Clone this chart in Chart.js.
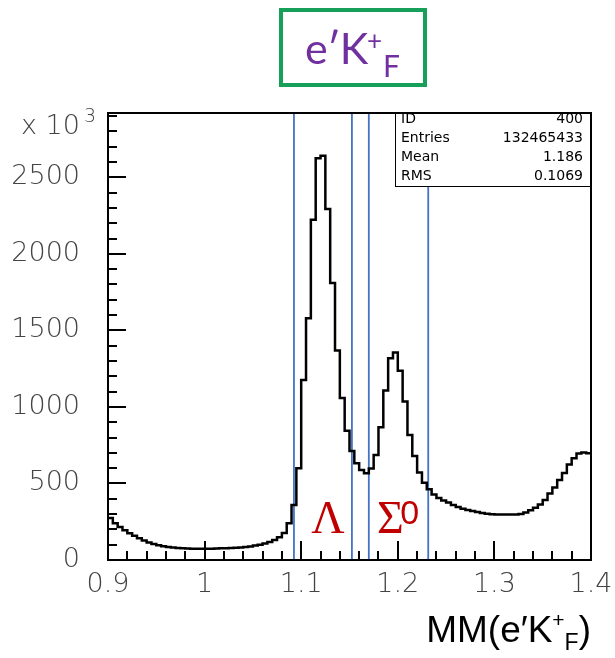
<!DOCTYPE html>
<html>
<head>
<meta charset="utf-8">
<script src="https://cdn.jsdelivr.net/npm/chart.js@4.4.1/dist/chart.umd.min.js"></script>
<style>
body { margin: 0; background: #fff; }
#wrap { position: relative; width: 615px; height: 658px; }
#title {
    position: absolute; left: 279px; top: 8px; width: 148px; height: 79px;
    box-sizing: border-box; border: 4px solid #16a05a;
    color: #7030a0; font-family: "Comic Sans MS", "Lato", sans-serif;
    white-space: nowrap;
}
#title .m { position: absolute; left: 22px; top: 14px; font-size: 43px; line-height: 43px; letter-spacing: -1px; }
#title .sup { position: absolute; left: 84px; top: 15px; font-size: 26px; line-height: 26px; }
#title .sub { position: absolute; left: 100px; top: 38px; font-size: 30px; line-height: 30px; }
#xtitle {
    position: absolute; right: 24px; top: 609px; height: 49px;
    font-family: "Liberation Sans", Arial, sans-serif; font-size: 37px; color: #000;
    white-space: nowrap;
}
#xtitle .sup { font-size: 21px; position: relative; top: -15px; }
#xtitle .sub { font-size: 23px; position: relative; top: 8px; }
</style>
</head>
<body>
<div id="wrap">
  <canvas id="chart"></canvas>
  <div id="title"><span class="m">e′K</span><span class="sup">+</span><span class="sub">F</span></div>
  <div id="xtitle">MM(e′K<span class="sup">+</span><span class="sub">F</span>)</div>
</div>
<script>
// histogram: 100 bins of 0.005 from 0.9 to 1.4, counts in units of 10^3
const binLow = 0.9;
const binWidth = 0.005;
const counts = [
    275, 240, 215, 195, 175, 158, 142, 128, 115, 104,
    96, 90, 85, 81, 78, 76, 75, 74, 74, 74,
    74, 74, 75, 76, 77, 78, 80, 82, 85, 89,
    94, 100, 108, 117, 130, 148, 176, 240, 359, 600,
    1176, 1580, 2222, 2625, 2640, 2293, 1810, 1368, 1058, 845,
    712, 632, 588, 566, 597, 686, 867, 1107, 1318, 1355,
    1237, 1035, 817, 680, 571, 505, 462, 428, 405, 388,
    375, 359, 346, 335, 327, 320, 314, 307, 302, 299,
    298, 297, 297, 297, 298, 300, 310, 325, 342, 362,
    392, 435, 473, 523, 569, 624, 665, 695, 702, 698
];
const cutLines = [1.0925, 1.1525, 1.17, 1.2315];
const xTicks = [0.9, 1.0, 1.1, 1.2, 1.3, 1.4];
const yTicks = [0, 500, 1000, 1500, 2000, 2500];
const yMax = 2920;
const statsLabels = ['ID', 'Entries', 'Mean', 'RMS'];
const statsValues = ['400', '132465433', '1.186', '0.1069'];

// one point per lower bin edge, plus the upper edge of the last bin
const histPoints = counts.map((c, i) => ({ x: binLow + i * binWidth, y: c }));
histPoints.push({ x: binLow + counts.length * binWidth, y: counts[counts.length - 1] });

const tickFont = { family: 'DejaVu Sans', size: 27, weight: 200 };

const rootFrame = {
    id: 'rootFrame',
    afterDatasetsDraw(chart) {
        const { ctx, chartArea: a, scales: { x, y } } = chart;
        ctx.save();

        // stats box
        const bx = 395, by = a.top, bw = a.right - bx, bh = 74;
        ctx.fillStyle = '#fff';
        ctx.fillRect(bx, by, bw, bh);
        ctx.strokeStyle = '#000';
        ctx.lineWidth = 1;
        ctx.strokeRect(bx + 0.5, by + 0.5, bw - 1, bh - 1);
        ctx.fillStyle = '#000';
        ctx.font = '14px "DejaVu Sans"';
        ctx.textBaseline = 'middle';
        statsLabels.forEach((lab, i) => {
            const ty = by + 6 + i * 19;
            ctx.textAlign = 'left';
            ctx.fillText(lab, bx + 6, ty);
            ctx.textAlign = 'right';
            ctx.fillText(statsValues[i], a.right - 8, ty);
        });

        // inner ticks
        ctx.lineWidth = 2;
        ctx.beginPath();
        for (let k = 0; k * 100 <= yMax; k++) {
            const py = Math.round(y.getPixelForValue(k * 100));
            const len = k % 5 === 0 ? 18 : 9;
            ctx.moveTo(a.left, py);
            ctx.lineTo(a.left + len, py);
        }
        for (let k = 0; k <= 25; k++) {
            const px = Math.round(x.getPixelForValue(0.9 + k * 0.02));
            const len = k % 5 === 0 ? 19 : 9;
            ctx.moveTo(px, a.bottom);
            ctx.lineTo(px, a.bottom - len);
        }
        ctx.stroke();

        // frame
        ctx.strokeRect(a.left, a.top, a.right - a.left, a.bottom - a.top);

        // exponent label
        ctx.fillStyle = '#444';
        ctx.textAlign = 'left';
        ctx.textBaseline = 'alphabetic';
        ctx.font = '200 27px "DejaVu Sans"';
        ctx.fillText('x 10', 21, 134);
        ctx.font = '200 19px "DejaVu Sans"';
        ctx.fillText('3', 84, 122);

        // particle labels
        ctx.fillStyle = '#c00000';
        ctx.font = '46px "Liberation Serif"';
        ctx.textAlign = 'center';
        ctx.fillText('Λ', x.getPixelForValue(1.1277), y.getPixelForValue(176));
        ctx.textAlign = 'left';
        ctx.fillText('Σ', x.getPixelForValue(1.1785), y.getPixelForValue(176));
        ctx.font = '34px "Liberation Sans"';
        ctx.fillText('0', x.getPixelForValue(1.2025), y.getPixelForValue(235));

        ctx.restore();
    }
};

const datasets = [{
    data: histPoints,
    borderColor: '#000',
    borderWidth: 2.5,
    stepped: 'before',
    pointRadius: 0,
    fill: false
}];
cutLines.forEach(c => datasets.push({
    data: [{ x: c, y: 0 }, { x: c, y: yMax }],
    borderColor: '#4472c4',
    borderWidth: 1.8,
    pointRadius: 0
}));

new Chart(document.getElementById('chart'), {
    type: 'line',
    data: { datasets: datasets },
    options: {
        responsive: true,
        maintainAspectRatio: false,
        animation: false,
        layout: { padding: { top: 113, right: 24, left: 0, bottom: 0 } },
        plugins: { legend: { display: false }, tooltip: { enabled: false } },
        scales: {
            x: {
                type: 'linear', min: 0.9, max: 1.4,
                grid: { display: false, drawTicks: true, tickLength: 9 },
                border: { display: false },
                afterFit: s => { s.height = 98; },
                afterBuildTicks: s => { s.ticks = xTicks.map(v => ({ value: v })); },
                ticks: {
                    color: '#444', font: tickFont, padding: 0, maxRotation: 0,
                    callback: v => String(+v.toFixed(1))
                }
            },
            y: {
                type: 'linear', min: 0, max: yMax,
                grid: { display: false, drawTicks: true, tickLength: 28 },
                border: { display: false },
                afterFit: s => { s.width = 108; },
                afterBuildTicks: s => { s.ticks = yTicks.map(v => ({ value: v })); },
                ticks: { color: '#444', font: tickFont, padding: 0, callback: v => String(v) }
            }
        }
    },
    plugins: [rootFrame]
});
</script>
</body>
</html>
